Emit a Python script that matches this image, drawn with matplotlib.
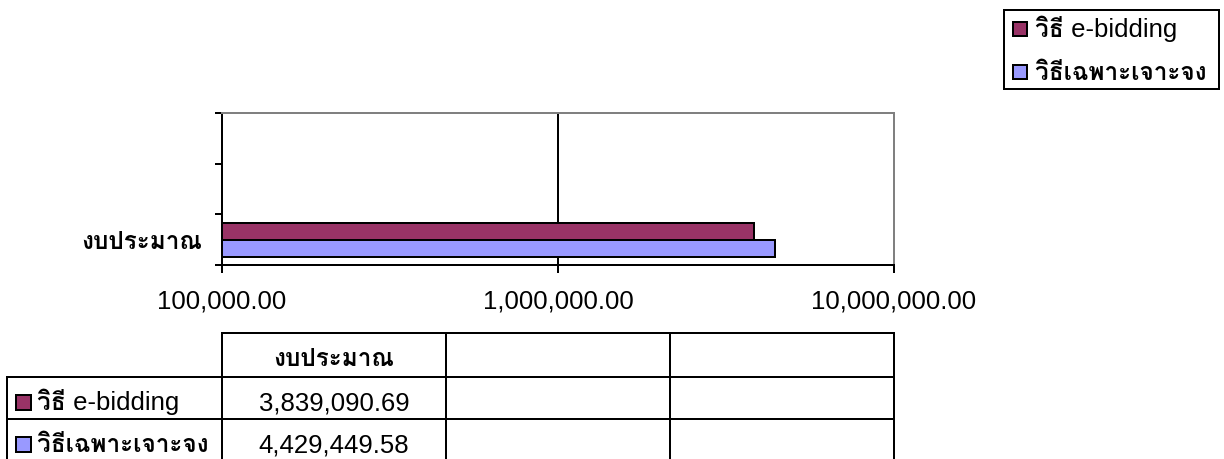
import matplotlib
matplotlib.use("Agg")
import numpy as np
import matplotlib.pyplot as plt
from matplotlib.ticker import FixedLocator, FuncFormatter, NullLocator

# data
categories = ['งบประมาณ', '', '']
series_thai = ['วิธี', 'วิธีเฉพาะเจาะจง']
series_latin = [' e-bidding', '']
ebidding = [3839090.69]
specific = [4429449.58]
series_values = [ebidding, specific]
series_colors = ['#993366', '#9999FF']
x_ticks = [1e5, 1e6, 1e7]

W, H = 1224, 459
THAI = 'Loma'
LATIN = 'Liberation Sans'
FS = 18.5
THAI_FS = 17.5
LW = 1.44

fig = plt.figure(figsize=(W / 100, H / 100), dpi=100)

# chart area
ax = fig.add_axes([222 / W, 1 - 265 / H, 672 / W, 152 / H])
ax.set_xscale('log')
ax.set_xlim(x_ticks[0], x_ticks[-1])
ax.set_ylim(-0.5, len(categories) - 0.5)

bar_h = 0.335
offsets = [bar_h / 2, -bar_h / 2]
for vals, col, off in zip(series_values, series_colors, offsets):
    pos = np.arange(len(vals)) + off
    ax.barh(pos, np.array(vals) - x_ticks[0], left=x_ticks[0], height=bar_h,
            color=col, edgecolor='black', linewidth=LW, zorder=3)

ax.xaxis.set_major_locator(FixedLocator(x_ticks))
ax.xaxis.set_minor_locator(NullLocator())
ax.xaxis.set_major_formatter(FuncFormatter(lambda v, p: f'{v:,.2f}'))
ax.tick_params(axis='x', which='major', direction='out', length=5.8, width=LW,
               pad=12, labelsize=FS)
for lab in ax.get_xticklabels():
    lab.set_fontfamily(LATIN)

ax.set_yticks(np.arange(len(categories) + 1) - 0.5)
ax.set_yticklabels([])
ax.tick_params(axis='y', which='major', direction='out', length=5, width=LW)
ax.set_yticks([0], labels=[categories[0]], minor=True)
ax.tick_params(axis='y', which='minor', length=0, pad=14.5, labelsize=THAI_FS)
for lab in ax.get_yticklabels(minor=True):
    lab.set_fontfamily(THAI)
    lab.set_fontweight('bold')

ax.grid(axis='x', which='major', color='black', linewidth=LW, zorder=1)
ax.set_axisbelow(True)
for side in ['left', 'bottom']:
    ax.spines[side].set_color('black')
    ax.spines[side].set_linewidth(LW)
for side in ['top', 'right']:
    ax.spines[side].set_color('#808080')
    ax.spines[side].set_linewidth(LW)

# overlay in pixel coordinates for the legend and the data table
ov = fig.add_axes([0, 0, 1, 1], zorder=5)
ov.set_xlim(0, W)
ov.set_ylim(H, 0)
ov.axis('off')
ov.patch.set_alpha(0)

renderer = fig.canvas.get_renderer()


def mixed_text(x, y, thai, latin):
    t = ov.text(x, y, thai, fontfamily=THAI, fontweight='bold', fontsize=THAI_FS,
                va='baseline', ha='left')
    if latin:
        bb = t.get_window_extent(renderer=renderer)
        ov.text(bb.x1, y, latin, fontfamily=LATIN, fontsize=FS,
                va='baseline', ha='left')


def swatch(x, y, col, size=15):
    ov.add_patch(plt.Rectangle((x, y - size), size, size, facecolor=col,
                               edgecolor='black', linewidth=LW))


# legend
ov.add_patch(plt.Rectangle((1004, 10), 215, 79, facecolor='white',
                           edgecolor='black', linewidth=LW))
for i, (th, la, col) in enumerate(zip(series_thai, series_latin, series_colors)):
    base = 37 + i * 43
    swatch(1013, base - 1, col, 14)
    mixed_text(1035, base, th, la)

# data table
col_x = [7, 222, 446, 670, 894]
row_y = [333, 377, 419, 462]
lk = dict(color='black', linewidth=LW)
ov.plot([col_x[1], col_x[-1]], [row_y[0]] * 2, **lk)
for y in row_y[1:]:
    ov.plot([col_x[0], col_x[-1]], [y] * 2, **lk)
ov.plot([col_x[0]] * 2, [row_y[1], row_y[-1]], **lk)
for x in col_x[1:]:
    ov.plot([x] * 2, [row_y[0], row_y[-1]], **lk)

for j, cat in enumerate(categories):
    cx = (col_x[j + 1] + col_x[j + 2]) / 2
    ov.text(cx, row_y[0] + 33, cat, fontfamily=THAI, fontweight='bold',
            fontsize=THAI_FS, ha='center', va='baseline')

for i, (th, la, col, vals) in enumerate(zip(series_thai, series_latin,
                                             series_colors, series_values)):
    base = row_y[i + 1] + 33
    swatch(16, base, col, 15)
    mixed_text(37, base, th, la)
    for j, v in enumerate(vals):
        cx = (col_x[j + 1] + col_x[j + 2]) / 2
        ov.text(cx, base, f'{v:,.2f}', fontfamily=LATIN, fontsize=FS,
                ha='center', va='baseline')

fig.savefig('out.png', dpi=100)
